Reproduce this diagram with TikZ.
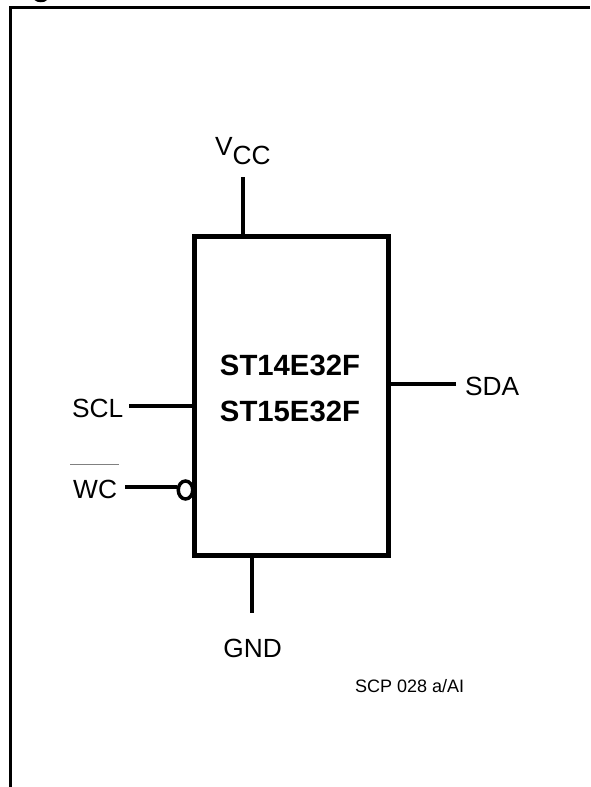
\documentclass[tikz,border=0pt]{standalone}
\usepackage{fontspec}
\usetikzlibrary{shapes.geometric}
\setmainfont{Liberation Sans}
\tikzset{
  frameline/.style={line width=3pt,black},
  chip/.style={draw,line width=5pt,minimum width=194pt,minimum height=319.5pt,inner sep=0pt,outer sep=0pt},
  pin/.style={line width=3.8pt},
  lbl/.style={inner sep=0pt,font=\fontsize{26.3}{27}\selectfont,text=black},
  part/.style={inner sep=0pt,font=\fontsize{29.3}{30}\selectfont\bfseries},
  small/.style={inner sep=0pt,font=\fontsize{18}{19}\selectfont}
}
\begin{document}
\begin{tikzpicture}[x=1pt,y=-1pt]
\useasboundingbox (0,0) rectangle (590,787);
\fill[black] (34.5,0) .. controls (37,3) and (45,3) .. (47,0) -- cycle;
\coordinate (fa) at (10.5,787);
\coordinate (fb) at (10.5,7.5);
\coordinate (fc) at (590,7.5);
\draw[frameline] (fa) -- (fb) -- (fc);
\node[ellipse,draw,line width=3.5pt,minimum width=14.5pt,minimum height=18pt,inner sep=0pt] (bub) at (185.5,490) {};
\node[chip,fill=none] (ic) at (291.3,395.75) {};
\node[part,anchor=base] (p1) at (290,375) {ST14E32F};
\node[part,anchor=base] (p2) at (290,421.7) {ST15E32F};
% Vcc
\node[lbl,anchor=base west] (vcc) at (215,164) {\raisebox{9pt}{V}CC};
\coordinate (vccend) at (242.7,177);
\draw[pin] (vccend) -- (vccend |- ic.north);
% SDA
\node[lbl,anchor=base west] (sda) at (465,395) {SDA};
\coordinate (sdaend) at (456,384);
\draw[pin] (sdaend) -- (sdaend -| ic.east);
% SCL
\node[lbl,anchor=base west] (scl) at (72,417.3) {SCL};
\coordinate (sclend) at (129.3,406);
\draw[pin] (sclend) -- (sclend -| ic.west);
% WC
\node[lbl,anchor=base west] (wc) at (73,498) {WC};
\coordinate (wcbar) at (70,464);
\coordinate (wcbarb) at (119,464);
\draw[line width=1pt,black!50] (wcbar) -- (wcbarb);
\coordinate (wcend) at (125,487.3);
\draw[pin] (wcend) -- (wcend -| bub.west);
% GND
\coordinate (gndend) at (252.3,612.7);
\draw[pin] (gndend) -- (gndend |- ic.south);
\node[lbl,anchor=base] (gnd) at (252.7,657.3) {GND};
\node[small,anchor=base west] (ref) at (355,692.7) {SCP 028 a/AI};
\end{tikzpicture}
\end{document}
